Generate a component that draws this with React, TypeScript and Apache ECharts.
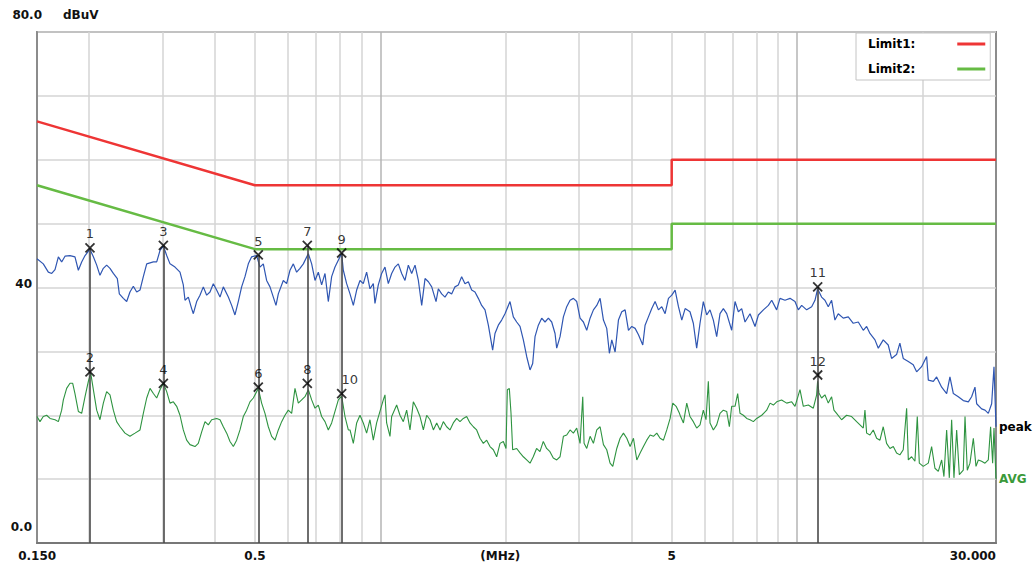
import React, { useEffect, useRef } from "react";
import * as echarts from "echarts";

const FONT = "'DejaVu Sans', Arial, sans-serif";

// Peak trace [frequency MHz, level dBuV]
const peakTrace: number[][] = [
  [0.15, 44.5], [0.1553, 43.7], [0.1597, 42.4], [0.1627, 42.2], [0.1657, 42.8], [0.1688, 44.8], [0.1719, 44.0], [0.1751, 44.9],
  [0.18, 45.0], [0.185, 44.8], [0.1885, 42.7], [0.192, 44.0], [0.1956, 45.0], [0.201, 46.0], [0.2048, 44.8], [0.2086, 43.5],
  [0.2124, 41.9], [0.2164, 43.0], [0.2204, 43.5], [0.2245, 43.0], [0.2287, 42.2], [0.2338, 41.4], [0.2364, 39.0], [0.2417, 38.3],
  [0.2462, 37.8], [0.2507, 39.3], [0.2554, 40.2], [0.2602, 39.3], [0.265, 39.6], [0.2699, 41.7], [0.275, 43.7], [0.2853, 44.0],
  [0.2906, 44.0], [0.296, 45.8], [0.3015, 46.5], [0.3071, 45.0], [0.3128, 43.7], [0.3215, 43.2], [0.3305, 42.4], [0.3366, 40.4],
  [0.3398, 38.0], [0.3461, 38.5], [0.3525, 36.7], [0.3558, 35.9], [0.3624, 37.8], [0.3691, 38.8], [0.376, 40.1], [0.383, 38.8],
  [0.3901, 39.3], [0.3973, 40.6], [0.4047, 39.6], [0.4123, 38.5], [0.4199, 40.1], [0.4317, 38.5], [0.4397, 37.2], [0.4478, 35.7],
  [0.4561, 37.8], [0.4646, 40.1], [0.4733, 41.7], [0.4821, 43.7], [0.491, 44.8], [0.5048, 45.0], [0.5142, 43.2], [0.5237, 43.7],
  [0.5334, 41.1], [0.5434, 40.1], [0.5535, 38.5], [0.5617, 37.2], [0.569, 39.0], [0.5849, 41.1], [0.5958, 40.6], [0.6069, 42.7],
  [0.6182, 43.7], [0.6296, 42.4], [0.6413, 43.0], [0.6533, 43.7], [0.6716, 45.3], [0.6841, 43.7], [0.6968, 41.1], [0.7097, 42.4],
  [0.7229, 40.4], [0.7364, 42.2], [0.75, 37.8], [0.764, 41.7], [0.7782, 43.2], [0.8, 44.8], [0.8074, 45.3], [0.8149, 42.7],
  [0.83, 40.6], [0.8455, 39.0], [0.8612, 37.2], [0.8772, 39.6], [0.8935, 41.1], [0.9099, 40.6], [0.9268, 42.4], [0.9441, 39.8],
  [0.9617, 40.6], [0.9705, 37.5], [0.9886, 40.4], [1.007, 42.2], [1.0257, 43.2], [1.0448, 40.6], [1.0643, 42.2], [1.0841, 43.2],
  [1.1043, 43.7], [1.1249, 42.2], [1.1457, 41.1], [1.167, 43.5], [1.1888, 42.2], [1.211, 43.5], [1.2335, 41.1], [1.2564, 37.2],
  [1.2798, 41.4], [1.3037, 40.9], [1.328, 40.1], [1.3601, 37.8], [1.3775, 39.8], [1.403, 39.0], [1.4289, 38.5], [1.4555, 39.3],
  [1.4825, 39.0], [1.51, 40.1], [1.5381, 40.4], [1.5668, 41.7], [1.5959, 40.6], [1.6256, 40.9], [1.6559, 39.6], [1.6866, 39.3],
  [1.718, 38.3], [1.7499, 37.2], [1.7826, 36.5], [1.8158, 34.1], [1.8594, 30.2], [1.8836, 32.8], [1.9187, 34.1], [1.9544, 34.9],
  [1.9907, 35.9], [2.0465, 37.8], [2.0846, 35.4], [2.1234, 34.6], [2.1629, 33.9], [2.2031, 31.8], [2.244, 29.2], [2.2859, 27.1],
  [2.3198, 28.1], [2.3499, 32.3], [2.3936, 34.1], [2.4381, 35.2], [2.4836, 34.6], [2.5298, 35.2], [2.5767, 34.6], [2.6247, 32.8],
  [2.649, 30.5], [2.6984, 32.3], [2.7486, 35.4], [2.7998, 37.0], [2.8518, 38.0], [2.9049, 38.3], [2.9589, 37.8], [3.014, 35.2],
  [3.0701, 34.6], [3.1272, 33.3], [3.1854, 35.2], [3.2447, 36.5], [3.3051, 37.2], [3.3666, 38.3], [3.4292, 34.9], [3.4923, 33.6],
  [3.5442, 29.7], [3.5909, 31.8], [3.6578, 29.9], [3.7257, 34.9], [3.795, 36.2], [3.8657, 36.5], [3.9377, 33.3], [4.0109, 33.9],
  [4.0856, 33.6], [4.1615, 32.6], [4.2615, 31.0], [4.3167, 34.1], [4.397, 35.4], [4.4789, 36.7], [4.5621, 37.8], [4.647, 36.5],
  [4.7334, 37.0], [4.8215, 35.9], [4.9112, 38.3], [5.0026, 38.8], [5.0957, 39.6], [5.1905, 37.0], [5.2869, 34.9], [5.3853, 36.7],
  [5.532, 36.2], [5.635, 34.4], [5.74, 30.5], [5.847, 34.4], [5.955, 37.8], [6.066, 35.7], [6.179, 36.5], [6.294, 34.9],
  [6.411, 32.3], [6.53, 35.9], [6.652, 36.7], [6.776, 35.9], [6.965, 33.3], [7.095, 37.8], [7.227, 36.2], [7.361, 36.7],
  [7.498, 34.6], [7.708, 35.9], [7.924, 33.9], [8.072, 35.7], [8.298, 36.5], [8.53, 37.2], [8.689, 38.0], [8.93, 36.5],
  [9.096, 38.3], [9.351, 38.0], [9.613, 38.3], [9.882, 37.8], [10.066, 36.5], [10.253, 37.2], [10.54, 36.5], [10.835, 37.0],
  [11.036, 38.0], [11.197, 39.8], [11.446, 38.5], [11.659, 38.0], [11.876, 37.0], [12.097, 38.0], [12.321, 34.9], [12.55, 35.9],
  [12.902, 35.2], [13.263, 35.4], [13.635, 34.4], [14.017, 34.6], [14.41, 33.3], [14.679, 33.9], [14.952, 32.8], [15.371, 31.8],
  [15.657, 30.5], [16.09, 31.8], [16.54, 31.0], [16.85, 28.9], [17.32, 29.5], [17.64, 31.3], [17.97, 28.9], [18.48, 28.4],
  [18.99, 27.9], [19.35, 26.8], [19.89, 27.6], [20.45, 29.2], [20.64, 25.5], [21.22, 25.3], [21.61, 26.0], [22.22, 24.4],
  [22.84, 23.4], [23.26, 26.0], [23.7, 23.4], [24.36, 22.9], [25.04, 22.3], [25.75, 22.1], [26.22, 22.9], [26.71, 24.4],
  [26.96, 21.8], [27.71, 21.0], [28.23, 20.8], [28.75, 20.3], [29.29, 21.8], [29.67, 27.6], [30, 18.2],
];

// Average trace [frequency MHz, level dBuV]
const avgTrace: number[][] = [
  [0.15, 19.8], [0.1525, 19.0], [0.1553, 19.8], [0.1582, 20.0], [0.1612, 19.5], [0.1657, 19.3], [0.1688, 19.0], [0.1719, 20.8],
  [0.1735, 22.4], [0.1767, 24.2], [0.18, 25.0], [0.1827, 25.0], [0.185, 23.4], [0.1885, 20.6], [0.192, 20.3], [0.1956, 22.9],
  [0.1992, 25.3], [0.2018, 26.6], [0.2048, 24.0], [0.2086, 20.8], [0.2124, 19.3], [0.2164, 21.9], [0.2204, 23.7], [0.2245, 23.2],
  [0.2287, 20.8], [0.2329, 19.0], [0.2373, 18.2], [0.2439, 17.2], [0.2507, 16.7], [0.2578, 17.2], [0.265, 17.7], [0.2699, 20.3],
  [0.275, 22.7], [0.2801, 24.2], [0.2853, 23.4], [0.2906, 22.7], [0.296, 24.0], [0.3015, 25.0], [0.3071, 23.7], [0.3128, 21.9],
  [0.3186, 22.1], [0.3245, 21.4], [0.3305, 20.0], [0.3366, 17.7], [0.3429, 16.1], [0.3493, 15.4], [0.3591, 15.1], [0.3657, 15.6],
  [0.3726, 17.4], [0.3795, 19.0], [0.3865, 18.5], [0.3937, 19.3], [0.4047, 19.5], [0.4123, 19.3], [0.4199, 18.2], [0.4278, 17.2],
  [0.4357, 15.9], [0.4438, 15.1], [0.452, 16.1], [0.4604, 17.7], [0.4689, 19.8], [0.4776, 20.8], [0.4865, 22.1], [0.4956, 22.7],
  [0.5094, 24.2], [0.5189, 21.9], [0.5286, 20.3], [0.5384, 18.2], [0.5484, 16.7], [0.5586, 16.1], [0.569, 17.7], [0.5796, 19.0],
  [0.5903, 20.0], [0.6013, 20.8], [0.6125, 20.3], [0.6239, 24.2], [0.6355, 21.9], [0.6473, 22.4], [0.6593, 22.9], [0.6716, 24.0],
  [0.6841, 22.4], [0.6968, 21.1], [0.7097, 21.6], [0.7229, 19.8], [0.7364, 19.0], [0.75, 17.7], [0.764, 18.8], [0.7782, 20.6],
  [0.7927, 22.4], [0.8074, 23.0], [0.8224, 19.8], [0.8377, 17.7], [0.8455, 17.7], [0.8612, 15.6], [0.8772, 18.8], [0.8935, 20.0],
  [0.9099, 18.8], [0.9268, 17.2], [0.9441, 19.3], [0.9617, 16.1], [0.9795, 18.8], [0.9977, 20.6], [1.0163, 22.4], [1.0257, 23.2],
  [1.0352, 18.8], [1.0545, 16.7], [1.0643, 19.8], [1.0941, 21.6], [1.1144, 20.0], [1.1351, 19.0], [1.1563, 20.8], [1.1778, 17.7],
  [1.1997, 22.1], [1.2221, 21.1], [1.2448, 19.8], [1.268, 17.7], [1.2916, 20.0], [1.3157, 19.3], [1.3401, 17.7], [1.3651, 18.8],
  [1.3905, 17.7], [1.4159, 19.0], [1.4421, 18.2], [1.4689, 17.7], [1.4962, 18.8], [1.5241, 19.5], [1.5524, 19.0], [1.5812, 19.5],
  [1.6106, 19.8], [1.6406, 18.8], [1.6711, 18.2], [1.7022, 17.7], [1.7339, 16.4], [1.7662, 15.6], [1.799, 16.1], [1.8325, 15.1],
  [1.8666, 14.6], [1.9013, 13.5], [1.9367, 15.6], [1.9727, 15.9], [2.0018, 14.8], [2.0166, 24.0], [2.039, 24.2], [2.0579, 20.3],
  [2.0769, 14.6], [2.1234, 14.8], [2.1629, 14.1], [2.2031, 13.5], [2.244, 13.0], [2.2859, 12.5], [2.3271, 13.5], [2.3703, 14.8],
  [2.4145, 14.3], [2.4595, 15.9], [2.5054, 14.8], [2.552, 14.3], [2.5995, 13.3], [2.649, 13.0], [2.6984, 13.5], [2.7486, 16.7],
  [2.7998, 16.9], [2.8518, 17.7], [2.9049, 17.2], [2.9589, 18.0], [3.014, 15.6], [3.0588, 22.9], [3.0813, 15.6], [3.1272, 14.8],
  [3.1854, 16.7], [3.2447, 15.6], [3.3051, 17.7], [3.3666, 18.2], [3.4292, 15.4], [3.4923, 14.6], [3.5573, 12.5], [3.6108, 12.0],
  [3.6915, 14.8], [3.7602, 16.4], [3.8301, 17.2], [3.9015, 16.4], [3.9741, 15.1], [4.0481, 16.4], [4.1234, 13.0], [4.1999, 14.1],
  [4.2773, 15.1], [4.3568, 16.1], [4.4378, 16.9], [4.5203, 16.7], [4.6044, 17.2], [4.6901, 16.4], [4.7772, 16.1], [4.8662, 17.7],
  [4.957, 19.5], [5.03, 21.9], [5.124, 21.4], [5.219, 20.3], [5.238, 20.0], [5.335, 18.8], [5.434, 21.9], [5.532, 19.8],
  [5.635, 19.0], [5.74, 18.0], [5.847, 18.5], [5.955, 20.8], [6.044, 19.3], [6.122, 25.3], [6.179, 18.8], [6.294, 17.7],
  [6.411, 18.5], [6.53, 20.3], [6.652, 20.8], [6.776, 20.6], [6.876, 18.2], [6.965, 21.4], [7.095, 21.4], [7.199, 23.4],
  [7.293, 20.3], [7.429, 20.0], [7.568, 19.5], [7.708, 19.3], [7.851, 19.0], [7.997, 19.5], [8.222, 20.0], [8.452, 20.8],
  [8.609, 21.9], [8.769, 21.6], [8.93, 22.1], [9.176, 22.4], [9.438, 21.9], [9.702, 22.1], [9.882, 21.4], [10.158, 24.0],
  [10.347, 21.4], [10.637, 21.6], [10.935, 21.1], [11.137, 23.2], [11.197, 25.3], [11.28, 23.5], [11.446, 22.7], [11.659, 23.2],
  [11.876, 21.9], [12.097, 22.9], [12.254, 20.8], [12.435, 20.3], [12.783, 19.3], [13.142, 20.0], [13.51, 19.8], [13.89, 19.0],
  [14.148, 18.5], [14.41, 18.0], [14.544, 20.8], [14.679, 17.2], [14.952, 16.9], [15.229, 17.7], [15.513, 16.4], [15.801, 16.1],
  [16.09, 18.2], [16.39, 15.6], [16.7, 14.8], [17.01, 15.1], [17.32, 14.1], [17.64, 13.8], [17.97, 14.6], [18.31, 21.1],
  [18.48, 13.0], [18.82, 13.5], [19.17, 12.8], [19.42, 19.8], [19.64, 12.5], [20.07, 12.0], [20.64, 12.5], [21.02, 15.1],
  [21.41, 11.7], [21.81, 11.2], [22.22, 13.0], [22.5, 10.4], [22.84, 17.7], [23.18, 10.2], [23.48, 19.3], [23.78, 10.2],
  [24.14, 17.7], [24.5, 10.7], [25.04, 11.4], [25.28, 19.8], [25.6, 11.4], [25.98, 12.5], [26.47, 16.4], [26.86, 12.0],
  [27.21, 13.0], [27.71, 12.8], [28.23, 12.5], [28.75, 13.0], [29.12, 18.2], [29.45, 12.5], [29.67, 18.0], [30, 10.0],
];

// Limit lines
const limit1: number[][] = [[0.15, 66], [0.5, 56], [5, 56], [5, 60], [30, 60]];
const limit2: number[][] = [[0.15, 56], [0.5, 46], [5, 46], [5, 50], [30, 50]];

// Markers
const markerIds = ["1", "2", "3", "4", "5", "6", "7", "8", "9", "10", "11", "12"];
const markerFreq = [0.201, 0.201, 0.3015, 0.3015, 0.5094, 0.5094, 0.6678, 0.6678, 0.8074, 0.8074, 11.2, 11.2];
const markerLevel = [46.2, 26.8, 46.6, 25.0, 45.1, 24.4, 46.6, 25.0, 45.4, 23.4, 40.1, 26.3];

// Axis grid / ticks
const gridFreqs = [0.2, 0.3, 0.4, 0.5, 0.6, 0.7, 0.8, 0.9, 1, 2, 3, 4, 5, 6, 7, 8, 9, 10, 20];
const xTickValues = [0.1501, 0.5, 1.94, 5, 29.99];
const xTickLabels = ["0.150", "0.5", "(MHz)", "5", "30.000"];
const yTickValues = [0, 40, 80];
const yTickLabels = ["0.0", "40", "80.0"];
const yTickStyles = ["b", "m", "t"];

export default function App() {
  const ref = useRef<HTMLDivElement>(null);

  useEffect(() => {
    const chart = echarts.init(ref.current!, null, { renderer: "svg" });
    const splitColors = ["#d4d4d4", "#d4d4d4", "#d4d4d4", "#d4d4d4", "#d4d4d4", "#d4d4d4", "#d4d4d4", "#d4d4d4", "#b4b4b4"];
    const tops = markerFreq.map((_, i) => i).filter((i) => i % 2 === 0);

    chart.setOption({
      animation: false,
      backgroundColor: "#ffffff",
      grid: {
        left: 37, right: 39, top: 32, bottom: 24,
        containLabel: false,
        outerBoundsMode: "none",
        show: true, borderColor: "#8c8c8c", borderWidth: 2, backgroundColor: "#ffffff",
      },
      legend: {
        data: ["Limit1:", "Limit2:"],
        orient: "vertical",
        left: 856,
        top: 33,
        align: "right",
        icon: "rect",
        itemWidth: 28,
        itemHeight: 3,
        itemGap: 13,
        padding: [5, 5, 5, 12],
        backgroundColor: "#ffffff",
        borderColor: "#c4c4c4",
        borderWidth: 1,
        selectedMode: false,
        formatter: (name: string) => `{a|${name}}`,
        textStyle: {
          fontFamily: FONT, fontWeight: "bold", fontSize: 12, color: "#000",
          rich: {
            a: {
              fontFamily: FONT, fontWeight: "bold", fontSize: 12, color: "#000",
              align: "left", padding: [0, 37, 0, 0],
            },
          },
        },
      },
      xAxis: {
        type: "log",
        logBase: 10,
        min: 0.15,
        max: 30,
        axisLine: { show: true, lineStyle: { color: "#777", width: 2 } },
        axisTick: { show: false, customValues: gridFreqs },
        minorTick: { show: false },
        splitLine: { show: true, lineStyle: { color: splitColors, width: 1.5 } },
        axisLabel: {
          customValues: xTickValues,
          margin: 7,
          fontFamily: FONT,
          fontSize: 12,
          fontWeight: "bold",
          color: "#111",
          alignMaxLabel: "right",
          formatter: (v: number) => {
            const i = xTickValues.findIndex((t) => Math.abs(t - v) / t < 0.01);
            return i >= 0 ? xTickLabels[i] : "";
          },
        },
      },
      yAxis: {
        type: "value",
        min: 0,
        max: 80,
        interval: 10,
        axisLine: { show: true, lineStyle: { color: "#8c8c8c", width: 2 } },
        axisTick: { show: false },
        splitLine: { show: true, lineStyle: { color: "#d4d4d4", width: 1.5 } },
        axisLabel: {
          customValues: yTickValues,
          margin: -5,
          fontFamily: FONT,
          fontSize: 12,
          fontWeight: "bold",
          color: "#111",
          formatter: (v: number) => {
            const i = yTickValues.indexOf(v);
            return i >= 0 ? `{${yTickStyles[i]}|${yTickLabels[i]}}` : "";
          },
          rich: {
            t: { fontFamily: FONT, fontSize: 12, fontWeight: "bold", color: "#111", padding: [0, 0, 34, 0] },
            m: { fontFamily: FONT, fontSize: 12, fontWeight: "bold", color: "#111", padding: [0, 10, 8, 0] },
            b: { fontFamily: FONT, fontSize: 12, fontWeight: "bold", color: "#111", padding: [0, 10, 32, 0] },
          },
        },
      },
      graphic: [
        {
          type: "text",
          left: 63,
          top: 9,
          style: { text: "dBuV", font: `bold 12px ${FONT}`, fill: "#111" },
        },
      ],
      series: [
        {
          name: "peak",
          type: "line",
          data: peakTrace,
          showSymbol: false,
          symbol: "none",
          color: "#2f56b2",
          lineStyle: { color: "#2f56b2", width: 1.2 },
          silent: true,
          z: 2,
          endLabel: {
            show: true, formatter: "peak", color: "#000", fontFamily: FONT,
            fontWeight: "bold", fontSize: 12, distance: 3,
          },
        },
        {
          name: "AVG",
          type: "line",
          data: avgTrace,
          showSymbol: false,
          symbol: "none",
          color: "#2e9340",
          lineStyle: { color: "#2e9340", width: 1.1 },
          silent: true,
          z: 2,
          endLabel: {
            show: true, formatter: "AVG", color: "#3a9a3a", fontFamily: FONT,
            fontWeight: "bold", fontSize: 12, distance: 3,
          },
        },
        {
          name: "Limit1:",
          type: "line",
          data: limit1,
          showSymbol: false,
          symbol: "none",
          color: "#ee3535",
          lineStyle: { color: "#ee3535", width: 2.5 },
          silent: true,
          z: 3,
        },
        {
          name: "Limit2:",
          type: "line",
          data: limit2,
          showSymbol: false,
          symbol: "none",
          color: "#66bb44",
          lineStyle: { color: "#66bb44", width: 2.5 },
          silent: true,
          z: 3,
        },
        {
          name: "markers",
          type: "scatter",
          silent: true,
          z: 5,
          symbol: "path://M0,0L10,10M10,0L0,10",
          symbolSize: 9,
          itemStyle: { color: "transparent", borderColor: "#000", borderWidth: 1.8 },
          label: {
            show: true, position: "top", distance: 2, formatter: "{b}",
            color: "#000", fontFamily: FONT, fontSize: 13,
          },
          data: markerFreq.map((f, i) => ({
            name: markerIds[i],
            value: [f, markerLevel[i]],
            label: markerIds[i] === "10" ? { offset: [8, 0] } : undefined,
          })),
          markLine: {
            silent: true,
            symbol: ["none", "none"],
            label: { show: false },
            lineStyle: { color: "#4a4a4a", width: 1.6, type: "solid" },
            data: tops.map((i) => [
              { coord: [markerFreq[i], markerLevel[i]] },
              { coord: [markerFreq[i], 0] },
            ]),
          },
        },
      ],
    });

    return () => chart.dispose();
  }, []);

  return (
    <div
      ref={ref}
      style={{ position: "fixed", left: 0, top: 0, width: 1035, height: 567, background: "#fff" }}
    />
  );
}
